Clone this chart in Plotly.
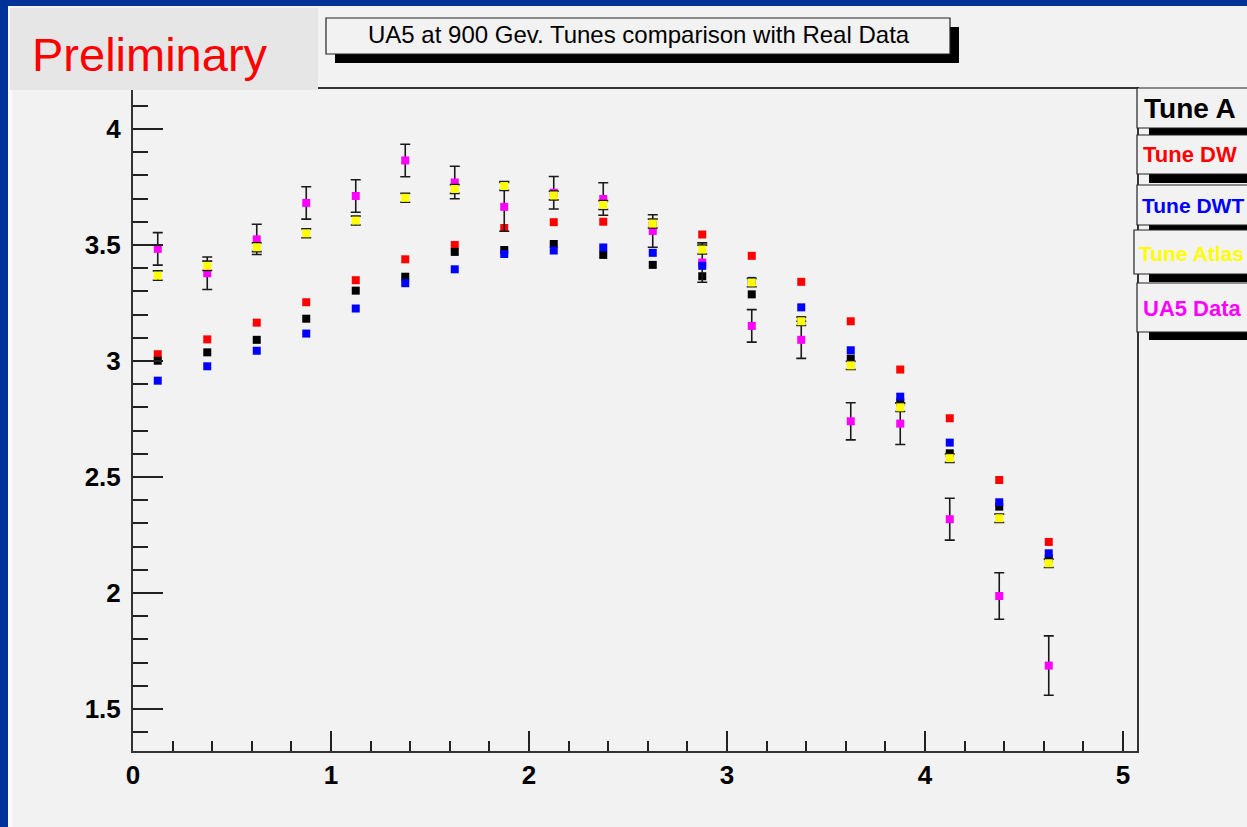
import plotly.graph_objects as go

# ---------------- data ----------------
x_vals = [0.125, 0.375, 0.625, 0.875, 1.125, 1.375, 1.625, 1.875, 2.125, 2.375,
          2.625, 2.875, 3.125, 3.375, 3.625, 3.875, 4.125, 4.375, 4.625]

ua5_data = [3.483, 3.378, 3.524, 3.681, 3.711, 3.864, 3.769, 3.664, 3.725, 3.698,
            3.560, 3.424, 3.151, 3.091, 2.740, 2.730, 2.318, 1.987, 1.687]
ua5_err = [0.070, 0.070, 0.065, 0.070, 0.070, 0.070, 0.070, 0.105, 0.070, 0.070,
           0.070, 0.085, 0.070, 0.080, 0.080, 0.090, 0.090, 0.100, 0.128]

tune_a = [3.001, 3.037, 3.091, 3.182, 3.303, 3.363, 3.470, 3.478, 3.504, 3.457,
          3.414, 3.365, 3.287, 3.175, 3.010, 2.822, 2.602, 2.372, 2.149]
tune_dw = [3.029, 3.093, 3.165, 3.253, 3.348, 3.438, 3.500, 3.573, 3.598, 3.600,
           3.585, 3.545, 3.453, 3.341, 3.171, 2.963, 2.753, 2.487, 2.220]
tune_dwt = [2.915, 2.977, 3.044, 3.118, 3.226, 3.335, 3.395, 3.461, 3.476, 3.489,
            3.466, 3.410, 3.345, 3.231, 3.046, 2.846, 2.648, 2.391, 2.171]
tune_atlas = [3.368, 3.410, 3.490, 3.550, 3.605, 3.703, 3.741, 3.754, 3.713, 3.672,
              3.592, 3.480, 3.338, 3.171, 2.981, 2.800, 2.581, 2.322, 2.128]
atlas_err = [0.020, 0.020, 0.019, 0.019, 0.019, 0.019, 0.019, 0.019, 0.019, 0.019,
             0.019, 0.019, 0.018, 0.018, 0.018, 0.018, 0.018, 0.018, 0.018]

legend_labels = ["Tune A", "Tune DW", "Tune DWT", "Tune Atlas", "UA5 Data"]
title_text = "UA5 at 900 Gev. Tunes comparison with Real Data"
x_ticks = [0, 1, 2, 3, 4, 5]
y_ticks = [1.5, 2, 2.5, 3, 3.5, 4]

# ---------------- layout geometry ----------------
W, H = 1247, 827
L, R, T, B = 133, 1137, 89, 751


def PX(px):
    return (px - L) / (R - L)


def PY(py):
    return (B - py) / (B - T)


BG = "#f2f2f2"
FONT = "Liberation Sans, Arial, Helvetica, sans-serif"

fig = go.Figure()


def add_series(yv, err, color):
    eb = dict(visible=False)
    if err is not None:
        eb = dict(type="data", array=err, visible=True, color="#1a1a1a",
                  thickness=1.6, width=5)
    fig.add_trace(go.Scatter(
        x=x_vals, y=yv, mode="markers",
        marker=dict(symbol="square", size=8, color=color, line=dict(width=0)),
        error_y=eb,
        showlegend=False, hoverinfo="x+y",
    ))


add_series(tune_dw, None, "#ff0000")
add_series(tune_a, None, "#000000")
add_series(ua5_data, ua5_err, "#ff00ff")
add_series(tune_dwt, None, "#0000ff")
add_series(tune_atlas, atlas_err, "#ffff00")

shapes = []


def rect(x0, y0, x1, y1, fill, line_color=None, lw=0):
    shapes.append(dict(
        type="rect", xref="paper", yref="paper",
        x0=PX(x0), x1=PX(x1), y0=PY(y1), y1=PY(y0),
        fillcolor=fill,
        line=dict(color=line_color or fill, width=lw),
        layer="above",
    ))


# blue outer border (left and top)
rect(-5, -5, 8, H + 5, "#003399")
rect(-5, -5, W + 20, 6, "#003399")
rect(8, 6, 12, H + 5, "#fafafa")

# Preliminary box
rect(10, 8, 318, 90, "#e6e6e6")

# Title box with shadow
rect(335, 27, 959, 63, "#000000")
rect(326, 18, 950, 54, BG, "#222222", 1.2)

# Legend boxes (cut by right edge)
legend_boxes = [
    (1137, 88, 128, 135),
    (1137, 135, 174, 183),
    (1137, 185, 225, 231),
    (1134, 230, 274, 282),
    (1137, 283, 332, 340),
]
for (lx, top, bot, sh) in legend_boxes:
    rect(1149, top + 8, 1270, sh, "#000000")
    rect(lx, top, 1268, bot, BG, "#222222", 1.2)

annotations = []


def text(px, py, s, size, color, bold=False, anchor="left"):
    annotations.append(dict(
        xref="paper", yref="paper", x=PX(px), y=PY(py),
        xanchor=anchor, yanchor="middle", showarrow=False,
        text=("<b>%s</b>" % s) if bold else s,
        font=dict(family=FONT, size=size, color=color),
    ))


text(30, 54, "Preliminary", 47, "#ff0000")
text(639, 35, title_text, 24, "#000000", anchor="center")

legend_colors = ["#000000", "#ff0000", "#0000ff", "#ffff00", "#ff00ff"]
legend_sizes = [28, 22, 21, 21, 22]
legend_y = [109, 155, 205, 253, 308]
legend_x = [1142, 1141, 1140, 1137, 1141]
for lab, col, sz, yy, xx in zip(legend_labels, legend_colors, legend_sizes, legend_y, legend_x):
    text(xx, yy, lab, sz, col, bold=True)

axis_font = dict(family=FONT, size=26, color="#000000")

fig.update_layout(
    width=W, height=H,
    margin=dict(l=L, r=W - R, t=T, b=H - B, pad=0),
    paper_bgcolor=BG, plot_bgcolor=BG,
    shapes=shapes, annotations=annotations,
    showlegend=False,
    xaxis=dict(
        range=[0, 5.0707], tickvals=x_ticks, ticktext=["<b>%d</b>" % v for v in x_ticks],
        ticks="inside", ticklen=20, tickwidth=1.5, tickcolor="#222222",
        minor=dict(ticks="inside", ticklen=10, tickwidth=1.5, tickcolor="#222222", dtick=0.2, tick0=0,
                   showgrid=False),
        showline=True, linecolor="#333333", linewidth=2, mirror=True,
        showgrid=False, zeroline=False, tickfont=axis_font, ticklabelstandoff=0,
    ),
    yaxis=dict(
        range=[1.319, 4.172], tickvals=y_ticks,
        ticktext=["<b>%g</b>" % v for v in y_ticks],
        ticks="inside", ticklen=30, tickwidth=1.5, tickcolor="#222222",
        minor=dict(ticks="inside", ticklen=15, tickwidth=1.5, tickcolor="#222222", dtick=0.1, tick0=0,
                   showgrid=False),
        showline=True, linecolor="#333333", linewidth=2, mirror=True,
        showgrid=False, zeroline=False, tickfont=axis_font, ticklabelstandoff=5,
    ),
)

fig.write_html("out.html")
